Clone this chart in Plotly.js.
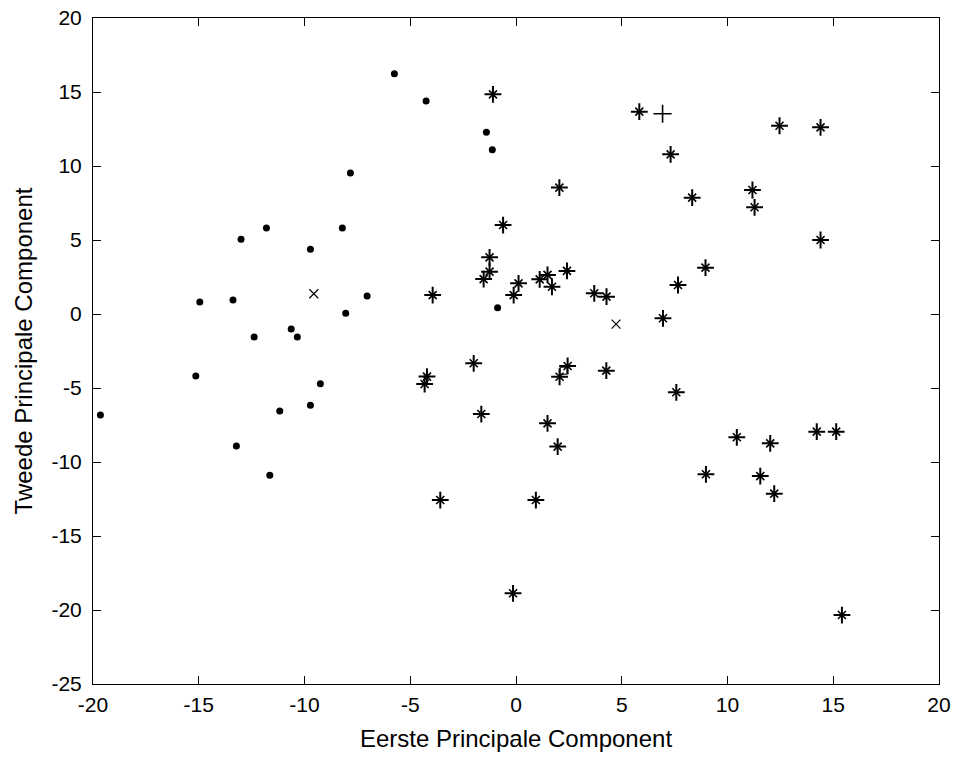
<!DOCTYPE html>
<html>
<head>
<meta charset="utf-8">
<script src="https://cdn.plot.ly/plotly-3.0.1.min.js"></script>
<style>html,body{margin:0;padding:0;background:#fff;}#chart{width:955px;height:762px;}</style>
</head>
<body>
<div id="chart"></div>
<script>
// Group 1 (dots)
const dotX = [-7.83, -11.8, -13.0, -8.21, -9.72, -7.04, -14.95, -13.38, -8.05, -10.63, -10.34, -12.38, -19.65, -15.14, -9.25, -9.72, -11.17, -13.22, -11.64, -5.75, -4.25, -1.40, -1.12, -0.87];
const dotY = [9.53, 5.81, 5.05, 5.81, 4.37, 1.22, 0.81, 0.95, 0.05, -1.01, -1.55, -1.55, -6.82, -4.19, -4.71, -6.17, -6.55, -8.92, -10.9, 16.24, 14.39, 12.28, 11.10, 0.43];
// Group 2 (asterisks)
const starX = [-1.09, 5.83, 7.31, 2.05, -0.61, -1.25, -1.25, -1.53, -3.94, 0.12, -0.11, 1.12, 1.49, 1.70, 2.41, 3.70, 4.28, 6.95, 7.66, -4.21, -4.32, -2.0, -1.64, 2.06, 2.44, 4.27, 7.58, 1.49, 1.97, -3.58, 0.94, -0.14, 12.46, 14.40, 8.33, 11.18, 11.28, 14.40, 8.96, 10.44, 12.02, 14.22, 15.14, 8.98, 11.55, 12.21, 15.41];
const starY = [14.84, 13.67, 10.79, 8.54, 6.01, 3.83, 2.86, 2.36, 1.28, 2.07, 1.28, 2.34, 2.64, 1.84, 2.91, 1.40, 1.17, -0.29, 1.96, -4.23, -4.73, -3.33, -6.76, -4.24, -3.51, -3.83, -5.29, -7.39, -8.96, -12.57, -12.57, -18.87, 12.72, 12.61, 7.86, 8.38, 7.21, 5.0, 3.13, -8.33, -8.74, -7.95, -7.95, -10.83, -10.95, -12.14, -20.34];
// Cluster centres (x markers)
const centreX = [-9.56, 4.73];
const centreY = [1.37, -0.68];
// Single plus marker
const plusX = [6.93];
const plusY = [13.53];
// Single square marker
const squareX = [2.25];
const squareY = [-3.83];

const xTicks = [-20, -15, -10, -5, 0, 5, 10, 15, 20];
const yTicks = [-25, -20, -15, -10, -5, 0, 5, 10, 15, 20];
const xTitle = 'Eerste Principale Component';
const yTitle = 'Tweede Principale Component';

const traces = [
  {x: dotX, y: dotY, type: 'scatter', mode: 'markers',
   marker: {symbol: 'circle', size: 7, color: '#000'}},
  {x: starX, y: starY, type: 'scatter', mode: 'markers',
   marker: {symbol: 'cross-thin-open', size: 12, color: '#000', line: {color: '#000', width: 2}}},
  {x: starX, y: starY, type: 'scatter', mode: 'markers',
   marker: {symbol: 'x-thin-open', size: 8, color: '#000', line: {color: '#000', width: 1.6}}},
  {x: centreX, y: centreY, type: 'scatter', mode: 'markers',
   marker: {symbol: 'x-thin-open', size: 9, color: '#000', line: {color: '#222', width: 1.2}}},
  {x: plusX, y: plusY, type: 'scatter', mode: 'markers',
   marker: {symbol: 'cross-thin-open', size: 13, color: '#000', line: {color: '#000', width: 1.6}}},
  {x: squareX, y: squareY, type: 'scatter', mode: 'markers',
   marker: {symbol: 'square-open', size: 7, color: '#000', line: {color: '#000', width: 1}}}
];

const axisCommon = {
  showgrid: false, zeroline: false,
  showline: true, linecolor: '#000', linewidth: 1, mirror: 'ticks',
  ticks: 'inside', ticklen: 8, tickwidth: 1, tickcolor: '#000',
  tickfont: {family: 'Liberation Sans, Arial, sans-serif', size: 21, color: '#000'}
};

const layout = {
  width: 955, height: 762,
  margin: {l: 93, r: 16, t: 18, b: 78},
  paper_bgcolor: '#fff', plot_bgcolor: '#fff',
  showlegend: false,
  xaxis: Object.assign({}, axisCommon, {
    range: [-20, 20], tickvals: xTicks, ticktext: xTicks.map(String),
    ticklabelstandoff: 2,
    title: {text: xTitle, standoff: 14, font: {family: 'Liberation Sans, Arial, sans-serif', size: 24, color: '#000'}}
  }),
  yaxis: Object.assign({}, axisCommon, {
    range: [-25, 20], tickvals: yTicks, ticktext: yTicks.map(String),
    ticklabelstandoff: 6,
    title: {text: yTitle, standoff: 12, font: {family: 'Liberation Sans, Arial, sans-serif', size: 24, color: '#000'}}
  })
};

Plotly.newPlot('chart', traces, layout, {displayModeBar: false, staticPlot: true});
</script>
</body>
</html>
